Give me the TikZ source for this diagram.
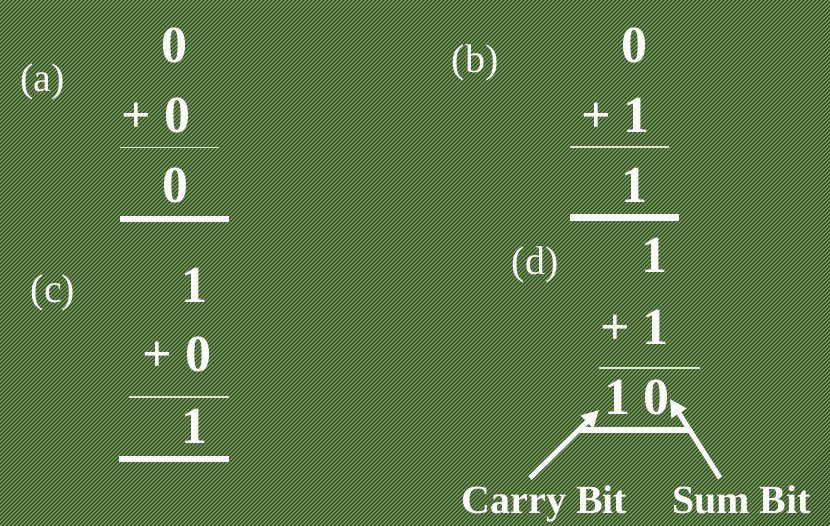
\documentclass[tikz,border=0pt]{standalone}
\usepackage{fontspec}
\setmainfont{Liberation Serif}
\usetikzlibrary{arrows.meta}
\definecolor{bglight}{HTML}{7F9F5F}
\definecolor{bgdark}{HTML}{2C4A22}
\definecolor{thinline}{HTML}{DDE6D0}
\begin{document}
\begin{tikzpicture}[x=1pt,y=-1pt,
  num/.style={font=\fontsize{52}{60}\selectfont\bfseries, text=white, anchor=base, inner sep=0pt},
  lab/.style={font=\fontsize{40}{48}\selectfont, text=white, anchor=base, inner sep=0pt},
  capt/.style={font=\fontsize{40}{48}\selectfont\bfseries, text=white, anchor=base, inner sep=0pt},
  thinrule/.style={draw=thinline, line width=1.5pt},
  thickrule/.style={draw=white, line width=6.5pt},
  pointer/.style={draw=white, line width=5pt, -{Triangle[length=17pt,width=17pt]}},
  barline/.style={draw=white, line width=6pt},
]
\useasboundingbox (0,0) rectangle (830,526);
\fill[bglight] (0,0) rectangle (830,526);
\begin{scope}
  \clip (0,0) rectangle (830,526);
  \foreach \i in {-530,-526,...,834} \draw[bgdark, line width=1.4pt] (\i,526) -- ++(526,-526);
\end{scope}

% (a)
\node[lab] (la) at (42.5,92) {(a)};
\node[num] (a1) at (174.5,62.5) {0};
\node[num] (a2) at (156,132.5) {+ 0};
\draw[thinrule] (120,147.5) -- (219,147.5);
\node[num] (a3) at (175,202.5) {0};
\draw[thickrule] (120,219) -- (229,219);

% (b)
\node[lab] (lb) at (475,73) {(b)};
\node[num] (b1) at (634.5,62.5) {0};
\node[num] (b2) at (615.5,133) {+ 1};
\draw[thinrule] (570,147) -- (669,147);
\node[num] (b3) at (634.5,203) {1};
\draw[thickrule] (570,217.5) -- (679,217.5);

% (c)
\node[lab] (lc) at (53,303) {(c)};
\node[num] (c1) at (194,303) {1};
\node[num] (c2) at (177,372) {+ 0};
\draw[thinrule] (129,397) -- (229,397);
\node[num] (c3) at (194,443) {1};
\draw[thickrule] (119,459) -- (229,459);

% (d)
\node[lab] (ld) at (535,275) {(d)};
\node[num] (d1) at (654.5,273) {1};
\node[num] (d2) at (634.5,345) {+ 1};
\draw[thinrule] (599,368) -- (700,368);
\node[num] (d3) at (636.5,414) {1 0};

\node[capt] (carry) at (544.5,513) {Carry Bit};
\node[capt] (sum) at (741.5,513) {Sum Bit};

\coordinate (cs) at (530,478);
\coordinate (ct) at (599,410);
\coordinate (ss) at (720,478);
\coordinate (st) at (670,399);
\coordinate (bl) at (578.7,430);
\coordinate (br) at (689.6,430);
\draw[barline] (bl) -- (br);
\draw[pointer] (cs) -- (ct);
\draw[pointer] (ss) -- (st);
\end{tikzpicture}
\end{document}
